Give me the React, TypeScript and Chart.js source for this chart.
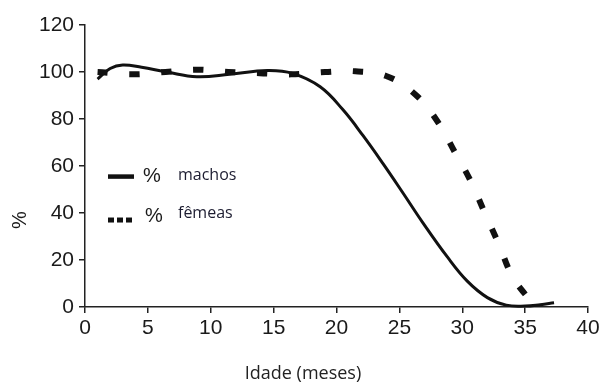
import React, { useEffect, useRef } from "react";
import { Chart, registerables } from "chart.js";

Chart.register(...registerables);

const xTicks = [0, 5, 10, 15, 20, 25, 30, 35, 40];
const yTicks = [0, 20, 40, 60, 80, 100, 120];

const maleX = [1, 2, 3, 4.5, 6.5, 8.9, 11.5, 14.5, 16.5, 18.7, 20.5, 22.1, 23.7, 25.3, 26.9, 28.8, 30.4, 32, 33.5, 35, 36.2, 37.3];
const maleY = [97, 101.5, 103, 102, 100, 98, 99, 100.6, 99.4, 93.7, 84, 73, 61, 48.4, 35.6, 21.4, 11, 4, 0.8, 0.4, 1, 1.8];

const femaleX = [1, 3.8, 6.4, 8.9, 11.4, 13.9, 16.4, 19.1, 21.5, 24.1, 26.4, 28.1, 29.4, 30.7, 31.8, 32.9, 34.0, 35.4];
const femaleY = [100, 99, 100, 101, 100, 99.5, 99, 100, 100.3, 98, 89.8, 78.4, 66, 53.3, 39.9, 26.8, 12.9, 2.7];

const xTitle = "Idade (meses)";
const yTitle = "%";
const legendLabels = ["machos", "fêmeas"];

const INK = "#1a1a1a";
const TICK_FONT = "'Liberation Sans', Arial, sans-serif";

const annotate = {
  id: "annotate",
  afterDraw(chart: any) {
    const { ctx, chartArea } = chart;
    ctx.save();
    ctx.fillStyle = INK;
    // y title
    ctx.save();
    ctx.translate(chartArea.left - 65, chart.scales.y.getPixelForValue(37));
    ctx.rotate(-Math.PI / 2);
    ctx.font = `20px ${TICK_FONT}`;
    ctx.textAlign = "center";
    ctx.textBaseline = "middle";
    ctx.fillText(yTitle, 0, 0);
    ctx.restore();
    // x title
    ctx.font = "18px 'Open Sans'";
    ctx.textAlign = "center";
    ctx.textBaseline = "middle";
    ctx.fillStyle = "#222";
    ctx.fillText(xTitle, chartArea.left + 218, chartArea.bottom + 67);

    // legend
    const lx = chartArea.left + 23;
    const row1 = chart.scales.y.getPixelForValue(55.5);
    const row2 = chart.scales.y.getPixelForValue(38.5);
    ctx.strokeStyle = "#111";
    ctx.lineWidth = 4.5;
    ctx.beginPath();
    ctx.moveTo(lx, row1);
    ctx.lineTo(lx + 26, row1);
    ctx.stroke();
    ctx.fillStyle = "#111";
    for (let i = 0; i < 3; i++) {
      ctx.fillRect(lx + i * 9, row2 + 1, 6, 5);
    }
    ctx.fillStyle = INK;
    ctx.font = `20px ${TICK_FONT}`;
    ctx.textAlign = "left";
    ctx.fillText("%", lx + 35, row1);
    ctx.fillText("%", lx + 37, row2);
    ctx.font = "16px 'Open Sans'";
    ctx.fillStyle = "#1c1c30";
    ctx.fillText(legendLabels[0], lx + 70, row1 - 1);
    ctx.fillText(legendLabels[1], lx + 70, row2 - 3);
    ctx.restore();
  },
};

export default function App() {
  const ref = useRef<HTMLCanvasElement | null>(null);
  useEffect(() => {
    const canvas = ref.current;
    if (!canvas) return;
    const chart = new Chart(canvas, {
      type: "line",
      data: {
        datasets: [
          {
            label: "% machos",
            data: maleX.map((x, i) => ({ x, y: maleY[i] })),
            borderColor: "#111",
            borderWidth: 3,
            pointRadius: 0,
            tension: 0.4,
            fill: false,
            clip: false as any,
          },
          {
            label: "% fêmeas",
            data: femaleX.map((x, i) => ({ x, y: femaleY[i] })),
            borderColor: "#111",
            borderWidth: 6,
            borderDash: [10, 22],
            borderCapStyle: "butt",
            pointRadius: 0,
            tension: 0.4,
            fill: false,
            clip: false as any,
          },
        ],
      },
      options: {
        animation: false,
        responsive: false,
        maintainAspectRatio: false,
        layout: { padding: { top: 25, right: 20, left: 0, bottom: 0 } },
        plugins: {
          legend: { display: false },
          tooltip: { enabled: false },
        },
        scales: {
          x: {
            type: "linear",
            min: 0,
            max: 40,
            afterBuildTicks: (s: any) => {
              s.ticks = xTicks.map((v) => ({ value: v }));
            },
            afterFit: (s: any) => {
              s.height = 76;
            },
            border: { display: true, color: "#222", width: 1.5 },
            grid: { display: true, drawOnChartArea: false, drawTicks: true, tickLength: 6, color: "#222", lineWidth: 1.5 },
            ticks: { color: INK, font: { family: TICK_FONT, size: 21 }, padding: 3, maxRotation: 0 },
          },
          y: {
            type: "linear",
            min: 0,
            max: 120,
            afterBuildTicks: (s: any) => {
              s.ticks = yTicks.map((v) => ({ value: v }));
            },
            afterFit: (s: any) => {
              s.width = 85;
            },
            border: { display: true, color: "#222", width: 1.5 },
            grid: { display: true, drawOnChartArea: false, drawTicks: true, tickLength: 6, color: "#222", lineWidth: 1.5 },
            ticks: { color: INK, font: { family: TICK_FONT, size: 21 }, padding: 5 },
          },
        },
      },
      plugins: [annotate],
    });
    return () => chart.destroy();
  }, []);
  return (
    <div style={{ position: "fixed", left: 0, top: 0, width: 608, height: 383, background: "#fff" }}>
      <canvas ref={ref} width={608} height={383} style={{ width: 608, height: 383 }} />
    </div>
  );
}
